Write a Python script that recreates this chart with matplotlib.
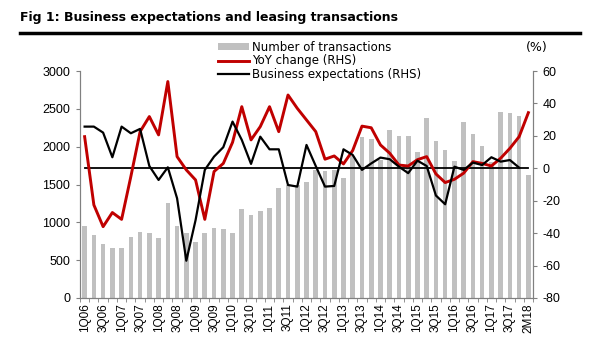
import matplotlib
matplotlib.use("Agg")
import matplotlib.pyplot as plt
import numpy as np
from matplotlib.lines import Line2D
from matplotlib.patches import Patch

quarters = []
for y in range(6, 18):
    for q in range(1, 5):
        quarters.append(f"{q}Q{y:02d}")
categories = quarters + ["2M18"]

transactions = [950, 830, 715, 655, 655, 810, 870, 865, 790, 1250,
                950, 865, 735, 855, 920, 910, 860, 1180, 1095, 1145,
                1185, 1450, 1490, 1500, 1530, 1690, 1680, 1690, 1585, 1880,
                2125, 2105, 1820, 2215, 2135, 2135, 1925, 2385, 2080, 1955,
                1805, 2330, 2170, 2005, 1800, 2455, 2445, 2400, 1630]

yoy_change = [19.5, -22.6, -36, -27.3, -31.5, -5.1, 22.6, 31.9, 20.6, 53.5,
              7.2, -1, -7.2, -31.5, -2, 3, 16, 38, 17.5, 25.7,
              38, 22.6, 45.2, 37, 29.8, 22.6, 5.6, 7.6, 2.7, 11,
              26, 25, 14.4, 9.3, 2, 1.4, 5.3, 7.2, -3.5, -8.8,
              -6.8, -3, 4.1, 3, 1.4, 6.2, 12.3, 19.5, 34.3]

business_exp = [25.7, 25.7, 22, 6.8, 25.7, 21.6, 24.3, 1.4, -7.2, 0.6,
                -18.5, -57, -32, -1, 7.2, 13, 28.8, 17.5, 2.7, 19.5,
                11.7, 11.7, -10.3, -11.3, 14.4, 1.4, -11.3, -10.9, 11.7, 8.2,
                -1, 3, 6.6, 5.6, 1, -3, 4.7, 1.4, -16.8, -22.2,
                1, -1, 3.5, 2, 6.8, 4.1, 5.1, 0.4, np.nan]

left_ticks = [0, 500, 1000, 1500, 2000, 2500, 3000]
right_ticks = [-80, -60, -40, -20, 0, 20, 40, 60]

x = np.arange(len(categories))

fig = plt.figure(figsize=(6, 3.6), dpi=100)
ax = fig.add_axes([80/600, 1-298/360, 453/600, 227/360])
ax2 = ax.twinx()

ax.bar(x, transactions, width=0.5, color="#c0c0c0", zorder=1)
ax2.plot(x, yoy_change, color="#c00000", lw=2.1, zorder=3)
ax2.plot(x, business_exp, color="black", lw=1.6, zorder=4)
ax2.plot([x[0], x[-1]], [0, 0], color="black", lw=1.3, zorder=2)

ax.set_xlim(-0.5, len(categories) - 0.5)
ax.set_ylim(0, 3000)
ax2.set_ylim(-80, 60)
ax.set_yticks(left_ticks)
ax.set_yticklabels([str(v) for v in left_ticks])
ax2.set_yticks(right_ticks)
ax2.set_yticklabels([str(v) for v in right_ticks])

ax.set_xticks(x[::2])
ax.set_xticklabels(categories[::2], rotation=90)
ax.set_xticks(np.arange(-0.5, len(categories), 1), minor=True)
ax.tick_params(axis="x", which="major", length=0, pad=4, labelsize=8.5)
ax.tick_params(axis="x", which="minor", length=3, color="#808080", direction="out")
ax.tick_params(axis="y", length=3, color="#808080", labelsize=9, pad=4)
ax2.tick_params(axis="y", length=3, color="#808080", labelsize=9, pad=4)
for t in ax.get_yticklabels() + ax2.get_yticklabels() + ax.get_xticklabels():
    t.set_fontfamily("Liberation Sans")

for a in (ax, ax2):
    a.spines["top"].set_visible(False)
    for s in ("left", "right", "bottom"):
        a.spines[s].set_color("#808080")
        a.spines[s].set_linewidth(0.8)
ax.set_zorder(ax2.get_zorder() - 1)
ax2.patch.set_visible(False)
ax.patch.set_visible(False)

fig.text(20/600, 1-18/360, "Fig 1: Business expectations and leasing transactions",
         fontsize=9, fontweight="bold", family="DejaVu Sans", va="center", ha="left")
fig.add_artist(Line2D([20/600, 580/600], [1-33/360, 1-33/360], color="black", lw=2.5,
                      transform=fig.transFigure))
fig.text(537/600, 1-48/360, "(%)", fontsize=9, family="DejaVu Sans",
         ha="center", va="center")

handles = [Patch(facecolor="#c0c0c0", edgecolor="none"),
           Line2D([], [], color="#c00000", lw=2.1),
           Line2D([], [], color="black", lw=1.6)]
labels = ["Number of transactions", "YoY change (RHS)", "Business expectations (RHS)"]
fig.legend(handles, labels, loc="upper left", bbox_to_anchor=(212/600, 1-35/360),
           frameon=False, handlelength=2.6, handleheight=0.5,
           labelspacing=0.05, handletextpad=0.3, borderpad=0.0,
           prop={"family": "DejaVu Sans", "size": 8.5})

fig.savefig("out.png", dpi=100)
